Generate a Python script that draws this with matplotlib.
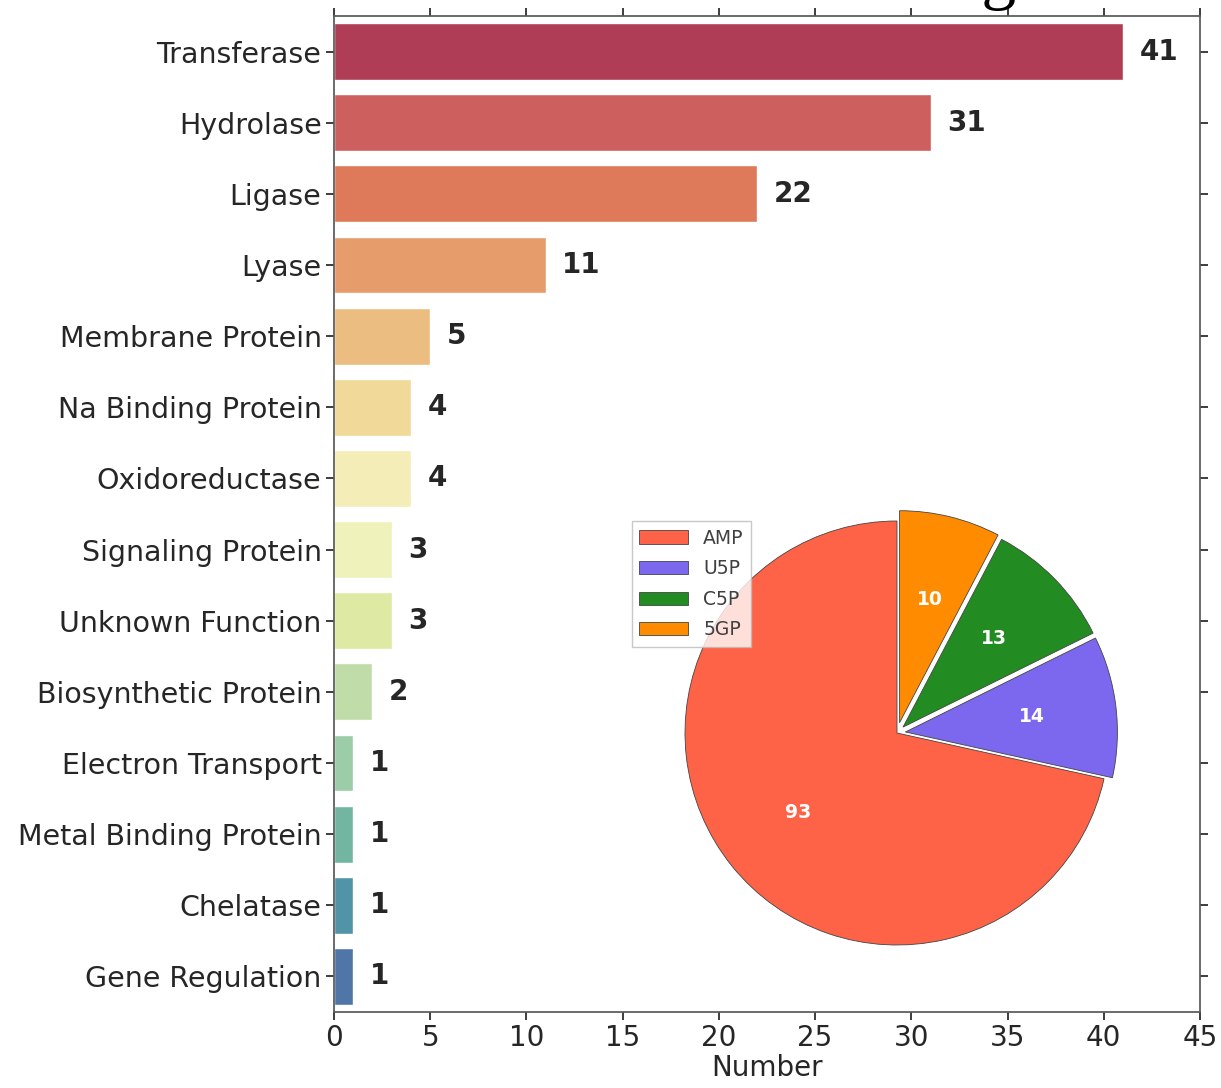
import matplotlib
matplotlib.use("Agg")
import matplotlib.pyplot as plt
import seaborn as sns

categories = [
    "Transferase", "Hydrolase", "Ligase", "Lyase", "Membrane Protein",
    "Na Binding Protein", "Oxidoreductase", "Signaling Protein",
    "Unknown Function", "Biosynthetic Protein", "Electron Transport",
    "Metal Binding Protein", "Chelatase", "Gene Regulation",
]
counts = [41, 31, 22, 11, 5, 4, 4, 3, 3, 2, 1, 1, 1, 1]

ligands = ["AMP", "U5P", "C5P", "5GP"]
ligand_counts = [93, 14, 13, 10]
ligand_colors = ["tomato", "mediumslateblue", "forestgreen", "darkorange"]
ligand_explode = [0, 0.04, 0.04, 0.05]

xticks = list(range(0, 50, 5))

sns.set_style("ticks")
plt.rcParams["font.family"] = ["DejaVu Sans"]
plt.rcParams["text.color"] = ".15"

fig = plt.figure(figsize=(12.21, 10.88), dpi=100)
ax = fig.add_axes([334 / 1221, 76 / 1088, 866 / 1221, 996 / 1088])

sns.barplot(x=counts, y=categories, hue=categories, palette="Spectral",
            legend=False, ax=ax, orient="h")
for i, v in enumerate(counts):
    ax.text(v + 0.85, i, str(v), va="center", ha="left",
            fontsize=20, fontweight="bold", color=".15")

ax.set_xlim(0, 45)
ax.set_ylim(13.5, -0.5)
ax.set_xticks(xticks)
ax.set_xlabel("Number", fontsize=20, color=".15", labelpad=1)
ax.set_ylabel("")
ax.tick_params(axis="y", labelsize=20.5)
ax.tick_params(axis="x", labelsize=20)
ax.tick_params(axis="both", colors=".15", length=6, width=1.25,
               top=True, right=True, pad=3)
for s in ax.spines.values():
    s.set_linewidth(1.25)
    s.set_color(".35")

# cropped title, only the descender of the last letter reaches the canvas
fig.text(1017 / 1221, 1 + 4 / 1088, "Binding", ha="right", va="baseline",
         fontsize=50, family="Liberation Serif", color="black")

pax = fig.add_axes([(897 - 265) / 1221, (1088 - 733 - 265) / 1088,
                    530 / 1221, 530 / 1088])
wedges, _, autotexts = pax.pie(
    ligand_counts, colors=ligand_colors, explode=ligand_explode,
    startangle=90, autopct=lambda p: "%d" % round(p * sum(ligand_counts) / 100),
    wedgeprops={"edgecolor": "#444444", "linewidth": 0.6},
    textprops={"color": "white", "fontsize": 13.5, "fontweight": "bold"},
)
pax.set_aspect("equal")
leg = pax.legend(wedges, ligands, loc="upper left", bbox_to_anchor=(0.0, 0.9),
                 fontsize=13.5, handlelength=2.6, labelspacing=0.62,
                 fancybox=False, frameon=True, borderaxespad=0)
leg.get_frame().set_edgecolor("#bbbbbb")
for t in leg.get_texts():
    t.set_color(".25")

fig.savefig("out.png", dpi=100)
